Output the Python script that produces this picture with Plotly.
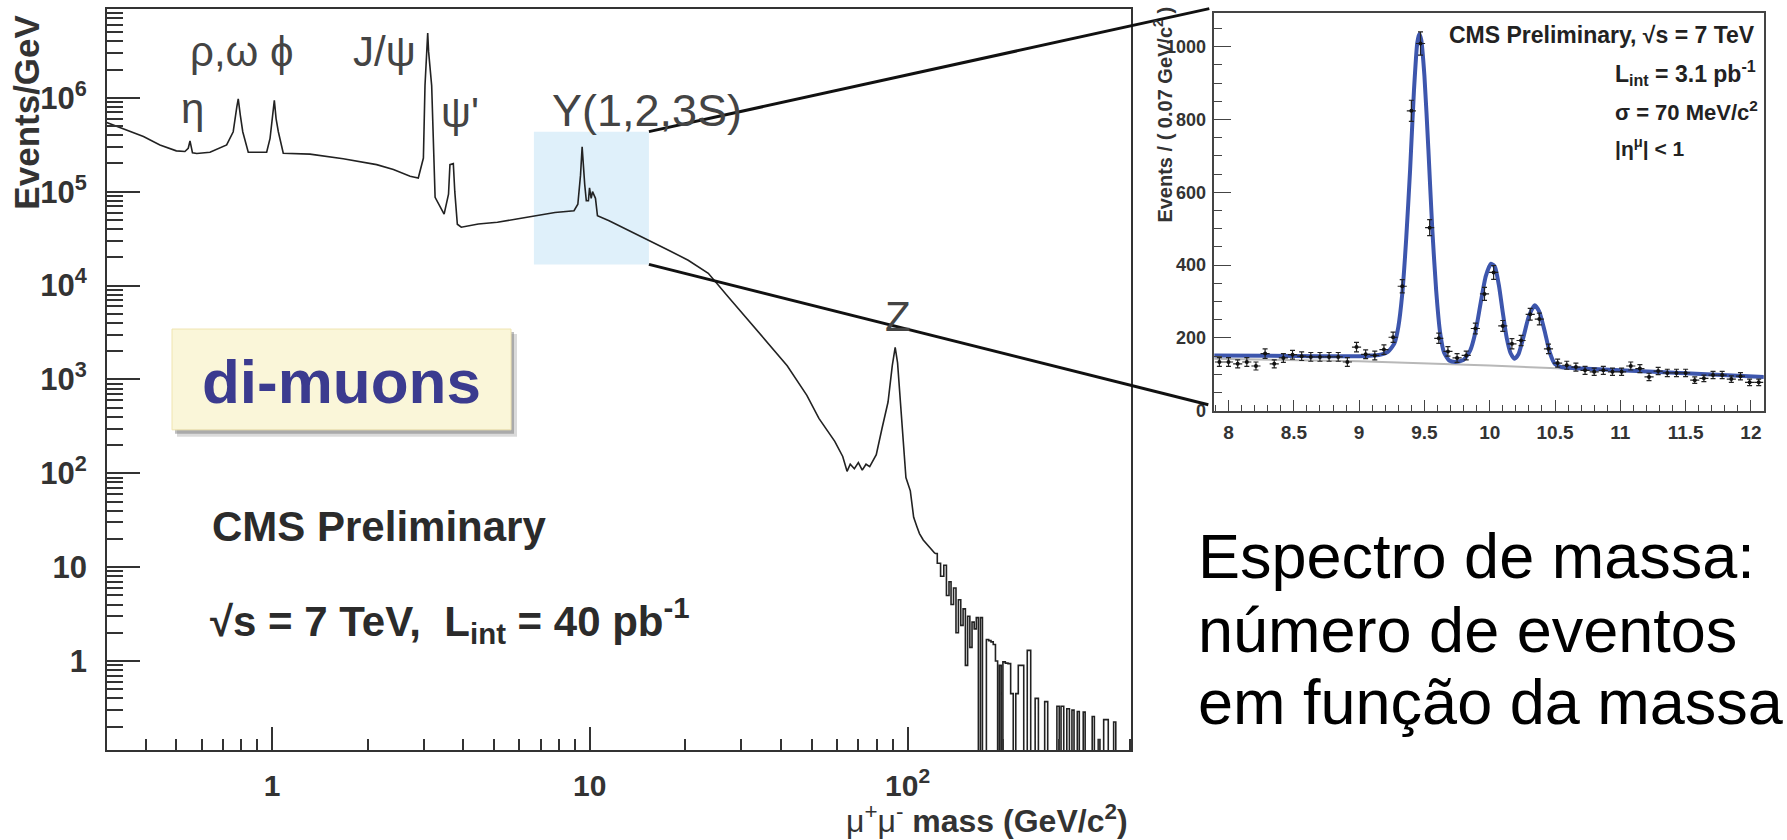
import math
import plotly.graph_objects as go

W, H = 1787, 840

# ---------------- main di-muon spectrum ----------------
mass_body = [0.302, 0.349, 0.394, 0.444, 0.50, 0.532, 0.545, 0.552, 0.562, 0.58, 0.638, 0.72,
             0.755, 0.775, 0.783, 0.795, 0.809, 0.842, 0.962, 0.986, 1.005, 1.017, 1.03, 1.047,
             1.085, 1.317, 1.675, 2.134, 2.41, 2.72, 2.886, 2.995, 3.03, 3.06, 3.09, 3.11, 3.18,
             3.26, 3.48, 3.593, 3.63, 3.72, 3.76, 3.83, 3.94, 4.46, 5.12, 5.89, 6.76, 7.77, 8.92,
             9.17, 9.35, 9.46, 9.64, 9.75, 9.90, 9.98, 10.1, 10.2, 10.42, 10.57, 11.5, 13.3, 15.35,
             17.7, 20.4, 23.6, 27.2, 31.4, 36.2, 41.8, 48.2, 52.6, 59.0, 62.5, 64.5, 66, 68, 70,
             72, 74, 76, 79.7, 83.1, 86.8, 89.5, 91.4, 93.0, 94.6, 98.8, 102, 104.5, 107, 109,
             112, 117, 122]
events_body = [5.46e5, 4.53e5, 3.86e5, 3.15e5, 2.72e5, 2.68e5, 2.9e5, 3.47e5, 2.6e5, 2.55e5,
               2.63e5, 3.15e5, 4.35e5, 8.0e5, 9.76e5, 6.5e5, 4.35e5, 2.63e5, 2.63e5, 3.7e5,
               7.0e5, 9.4e5, 6.0e5, 4.35e5, 2.57e5, 2.51e5, 2.24e5, 1.94e5, 1.72e5, 1.46e5,
               1.4e5, 2.28e5, 1.35e6, 3.1e6, 4.9e6, 3.1e6, 1.35e6, 8.7e4, 5.77e4, 9.4e4, 1.94e5,
               1.99e5, 1.0e5, 4.5e4, 4.18e4, 4.53e4, 4.72e4, 5.12e4, 5.55e4, 6.0e4, 6.27e4,
               7.35e4, 1.5e5, 3.0e5, 1.19e5, 8.0e4, 8.0e4, 1.1e5, 8.5e4, 1.0e5, 8.5e4, 5.55e4,
               4.9e4, 3.86e4, 3.0e4, 2.38e4, 1.86e4, 1.35e4, 7.66e3, 4.37e3, 2.47e3, 1.4e3, 676,
               385, 219, 151, 105, 125, 112, 130, 108, 125, 118, 158, 302, 575, 1400, 2190, 1500,
               630, 90, 65, 34, 27, 22.8, 19.5, 16.6, 14]

# high-mass tail drawn as a step histogram (left bin edges, Events/GeV; 0.001 = empty bin)
tail_edges = [122, 124, 127, 130, 132.5, 135, 137, 139.5, 142, 144.5, 147, 149.5, 152, 154.5,
              157, 159.5, 162, 164.5, 167, 169.5, 172, 174.5, 177, 180, 183, 186, 189, 192,
              194.5, 197, 199.5, 203, 207, 211, 215, 219, 223, 227.5, 232, 238, 244, 252, 258,
              270, 276, 295, 300, 304, 310, 317, 323, 329, 334, 342, 347, 357, 362, 381, 387,
              398, 403, 414, 428, 445, 452, 460]
tail_values = [14, 11, 8.0, 10.5, 5.0, 7.0, 4.0, 6.0, 2.0, 4.5, 2.4, 3.6, 0.9, 3.0, 1.4, 2.6,
               2.2, 2.9, 0.001, 2.9, 0.001, 0.001, 1.7, 1.65, 1.6, 1.5, 1.0, 0.001, 0.9, 0.001,
               0.98, 0.95, 0.94, 0.45, 0.001, 0.45, 0.9, 0.9, 0.001, 1.3, 0.001, 0.4, 0.001,
               0.37, 0.001, 0.33, 0.001, 0.33, 0.001, 0.31, 0.001, 0.30, 0.001, 0.29, 0.001,
               0.286, 0.001, 0.257, 0.001, 0.146, 0.001, 0.238, 0.001, 0.224, 0.001, 0.001]

# ---------------- inset: Upsilon region ----------------
ups_mass = [7.93, 8.00, 8.07, 8.14, 8.21, 8.28, 8.35, 8.42, 8.49, 8.56, 8.63, 8.70, 8.77, 8.84,
            8.91, 8.98, 9.05, 9.12, 9.19, 9.26, 9.33, 9.40, 9.47, 9.54, 9.61, 9.68, 9.75, 9.82,
            9.89, 9.96, 10.03, 10.10, 10.17, 10.24, 10.31, 10.38, 10.45, 10.52, 10.59, 10.66,
            10.73, 10.80, 10.87, 10.94, 11.01, 11.08, 11.15, 11.22, 11.29, 11.36, 11.43, 11.50,
            11.57, 11.64, 11.71, 11.78, 11.85, 11.92, 11.99, 12.06]
ups_counts = [134, 134, 129, 134, 123, 157, 129, 145, 154, 150, 148, 148, 148, 148, 134, 175,
              155, 152, 168, 202, 342, 824, 1009, 503, 199, 163, 145, 152, 226, 321, 380, 233,
              184, 193, 265, 252, 170, 131, 125, 120, 111, 107, 111, 107, 107, 123, 116, 93, 109,
              104, 104, 104, 84, 89, 98, 98, 87, 95, 78, 78]
ups_errors = [12, 12, 11, 12, 11, 13, 11, 12, 12, 12, 12, 12, 12, 12, 12, 13, 12, 12, 13, 14, 18,
              29, 32, 22, 14, 13, 12, 12, 15, 18, 19, 15, 14, 14, 16, 16, 13, 11, 11, 11, 11, 10,
              11, 10, 10, 11, 11, 10, 10, 10, 10, 10, 9, 9, 10, 10, 9, 10, 9, 9]
fit_mass = [7.88, 8.3, 8.7, 9.0, 9.15, 9.22, 9.27, 9.30, 9.33, 9.36, 9.39, 9.42, 9.445, 9.46,
            9.475, 9.50, 9.53, 9.56, 9.59, 9.62, 9.65, 9.69, 9.74, 9.80, 9.85, 9.89, 9.93, 9.97,
            10.01, 10.04, 10.07, 10.10, 10.13, 10.16, 10.19, 10.22, 10.26, 10.30, 10.345, 10.38,
            10.42, 10.46, 10.50, 10.55, 10.65, 11.0, 11.5, 12.1]
fit_events = [152, 151, 150, 150, 153, 162, 185, 230, 320, 470, 660, 880, 1010, 1035, 1020, 920,
              720, 500, 330, 215, 160, 138, 134, 140, 165, 215, 295, 370, 404, 395, 345, 270, 200,
              158, 143, 155, 205, 260, 290, 272, 220, 160, 128, 120, 117, 111, 103, 93]
bkg_mass = [7.88, 9.0, 10.0, 10.55, 11.0, 11.5, 12.1]
bkg_events = [143, 136, 124, 117, 111, 103, 93]

# ---------------- geometry helpers (pixel -> paper) ----------------
def pxx(x):
    return x / W


def pxy(y):
    return 1 - y / H


MAIN_L, MAIN_R, MAIN_T, MAIN_B = 107, 1131, 9, 759
MX_RANGE = [-0.5192, 2.7030]
MY_RANGE = [-0.947, 6.947]
INS_L, INS_R, INS_T, INS_B = 1214.3, 1763.7, 12.7, 415.7
IX_RANGE = [7.891, 12.098]
IY_RANGE = [0, 1094]


def main_to_px(m, n):
    fx = (math.log10(m) - MX_RANGE[0]) / (MX_RANGE[1] - MX_RANGE[0])
    fy = (math.log10(n) - MY_RANGE[0]) / (MY_RANGE[1] - MY_RANGE[0])
    return MAIN_L + fx * (MAIN_R - MAIN_L), MAIN_B - fy * (MAIN_B - MAIN_T)


FONT = "Liberation Sans"
AX = "#333333"

fig = go.Figure()

fig.add_trace(go.Scatter(x=mass_body, y=events_body, mode="lines",
                         line=dict(color="#222222", width=1.6), xaxis="x", yaxis="y",
                         showlegend=False, hoverinfo="skip"))
fig.add_trace(go.Scatter(x=tail_edges, y=tail_values, mode="lines", line_shape="hv",
                         line=dict(color="#222222", width=1.6), xaxis="x", yaxis="y",
                         showlegend=False, hoverinfo="skip"))

fig.add_trace(go.Scatter(x=bkg_mass, y=bkg_events, mode="lines",
                         line=dict(color="#b8b8b8", width=2), xaxis="x2", yaxis="y2",
                         showlegend=False, hoverinfo="skip"))
fig.add_trace(go.Scatter(x=fit_mass, y=fit_events, mode="lines", line_shape="spline",
                         line=dict(color="#3d56ad", width=4, smoothing=0.6),
                         xaxis="x2", yaxis="y2", showlegend=False, hoverinfo="skip"))
fig.add_trace(go.Scatter(x=ups_mass, y=ups_counts, mode="markers",
                         marker=dict(color="#111111", size=4),
                         error_x=dict(type="constant", value=0.035, color="#222222",
                                      thickness=1.2, width=0),
                         error_y=dict(type="data", array=ups_errors, color="#222222",
                                      thickness=1.2, width=2.5),
                         xaxis="x2", yaxis="y2", showlegend=False, hoverinfo="skip"))

# ---------------- axes ----------------
y_major = [1, 10, 100, 1e3, 1e4, 1e5, 1e6]
y_major_text = ["<b>1</b>", "<b>10</b>", "<b>10<sup>2</sup></b>", "<b>10<sup>3</sup></b>",
                "<b>10<sup>4</sup></b>", "<b>10<sup>5</sup></b>", "<b>10<sup>6</sup></b>"]
y_minor = [k * 10.0 ** n for n in range(-1, 7) for k in range(2, 10)]
x_major = [1, 10, 100]
x_major_text = ["<b>1</b>", "<b>10</b>", "<b>10<sup>2</sup></b>"]
x_minor = [k * 10.0 ** n for n in range(-1, 3) for k in range(2, 10)]

fig.update_layout(
    width=W, height=H, autosize=False,
    margin=dict(l=0, r=0, t=0, b=0),
    paper_bgcolor="white", plot_bgcolor="rgba(0,0,0,0)",
    font=dict(family=FONT, color=AX),
    xaxis=dict(type="log", domain=[pxx(MAIN_L), pxx(MAIN_R)], range=MX_RANGE,
               anchor="y", showgrid=False, zeroline=False, showline=True, mirror=True,
               linecolor=AX, linewidth=1.8, ticks="inside", ticklen=23, tickwidth=1.5,
               tickcolor=AX, tickmode="array", tickvals=x_major, ticktext=x_major_text,
               tickfont=dict(size=30, family=FONT, color=AX), ticklabelstandoff=8,
               minor=dict(tickmode="array", tickvals=x_minor, ticks="inside", ticklen=11,
                          tickwidth=1.5, tickcolor=AX, showgrid=False)),
    yaxis=dict(type="log", domain=[pxy(MAIN_B), pxy(MAIN_T)], range=MY_RANGE,
               anchor="x", showgrid=False, zeroline=False, showline=True, mirror=True,
               linecolor=AX, linewidth=1.8, ticks="inside", ticklen=33, tickwidth=1.5,
               tickcolor=AX, tickmode="array", tickvals=y_major, ticktext=y_major_text,
               tickfont=dict(size=31, family=FONT, color=AX), ticklabelstandoff=12,
               minor=dict(tickmode="array", tickvals=y_minor, ticks="inside", ticklen=16,
                          tickwidth=1.5, tickcolor=AX, showgrid=False)),
    xaxis2=dict(domain=[pxx(INS_L), pxx(INS_R)], range=IX_RANGE, anchor="y2",
                showgrid=False, zeroline=False, showline=True, mirror=True,
                linecolor="#444444", linewidth=1.5, ticks="inside", ticklen=11,
                tickwidth=1.2, tickcolor="#444444", tickmode="array",
                tickvals=[8, 8.5, 9, 9.5, 10, 10.5, 11, 11.5, 12],
                ticktext=["<b>8</b>", "<b>8.5</b>", "<b>9</b>", "<b>9.5</b>", "<b>10</b>",
                          "<b>10.5</b>", "<b>11</b>", "<b>11.5</b>", "<b>12</b>"],
                tickfont=dict(size=19, family=FONT, color=AX), ticklabelstandoff=4,
                minor=dict(tickmode="array",
                           tickvals=[round(7.9 + 0.1 * i, 1) for i in range(42)],
                           ticks="inside", ticklen=6, tickwidth=1.2, tickcolor="#444444")),
    yaxis2=dict(domain=[pxy(INS_B), pxy(INS_T)], range=IY_RANGE, anchor="x2",
                showgrid=False, zeroline=False, showline=True, mirror=True,
                linecolor="#444444", linewidth=1.5, ticks="inside", ticklen=17,
                tickwidth=1.2, tickcolor="#444444", tickmode="array",
                tickvals=[0, 200, 400, 600, 800, 1000],
                ticktext=["<b>0</b>", "<b>200</b>", "<b>400</b>", "<b>600</b>", "<b>800</b>",
                          "<b>1000</b>"],
                tickfont=dict(size=18, family=FONT, color=AX), ticklabelstandoff=3,
                minor=dict(tickmode="array", tickvals=[50 * i for i in range(22)],
                           ticks="inside", ticklen=8, tickwidth=1.2, tickcolor="#444444")),
)

# ---------------- shapes ----------------
ZOOM_X = [6.67, 15.35]
ZOOM_Y = [1.68e4, 4.36e5]
zx0, zy0 = main_to_px(ZOOM_X[0], ZOOM_Y[1])
zx1, zy1 = main_to_px(ZOOM_X[1], ZOOM_Y[0])

shapes = [
    dict(type="rect", xref="x", yref="y", x0=ZOOM_X[0], x1=ZOOM_X[1], y0=ZOOM_Y[0],
         y1=ZOOM_Y[1], fillcolor="#dff0fa", line=dict(width=0), layer="below"),
    dict(type="line", xref="paper", yref="paper", x0=pxx(zx1), y0=pxy(zy0),
         x1=pxx(INS_L - 5), y1=pxy(INS_T - 4), line=dict(color="#111111", width=3)),
    dict(type="line", xref="paper", yref="paper", x0=pxx(zx1), y0=pxy(zy1),
         x1=pxx(INS_L - 6), y1=pxy(INS_B - 6), line=dict(color="#111111", width=3)),
    # di-muons box with its soft shadow
    dict(type="rect", xref="paper", yref="paper", x0=pxx(177), x1=pxx(517), y0=pxy(442),
         y1=pxy(338), fillcolor="rgba(150,150,150,0.35)", line=dict(width=0)),
    dict(type="rect", xref="paper", yref="paper", x0=pxx(175), x1=pxx(514), y0=pxy(439),
         y1=pxy(336), fillcolor="rgba(110,110,110,0.45)", line=dict(width=0)),
    dict(type="rect", xref="paper", yref="paper", x0=pxx(172), x1=pxx(511), y0=pxy(435),
         y1=pxy(333), fillcolor="#faf6d9", line=dict(color="#efe4b0", width=1)),
]
fig.update_layout(shapes=shapes)

# ---------------- texts ----------------
ann = []


def text(x, y, s, size, color=AX, xanchor="center", yanchor="middle", angle=0, family=FONT):
    ann.append(dict(x=pxx(x), y=pxy(y), xref="paper", yref="paper", text=s, showarrow=False,
                    xanchor=xanchor, yanchor=yanchor, textangle=angle,
                    font=dict(size=size, color=color, family=family)))


PEAK = "#444444"
text(192, 110, "η", 42, PEAK)
text(224, 52, "ρ,ω", 42, PEAK)
text(282, 52, "ϕ", 42, PEAK)
text(384, 52, "J/ψ", 42, PEAK)
text(460, 114, "ψ'", 42, PEAK)
text(647, 112, "Υ(1,2,3S)", 45, PEAK)
text(898, 320, "Z", 42, PEAK)

text(341, 386, "<b>di-muons</b>", 62, "#3b3b8f")
text(210, 533, "<b>CMS Preliminary</b>", 42, "#2b2b2b", xanchor="left")
text(208, 628, "<b>√s = 7 TeV,  L<sub>int</sub> = 40 pb<sup>-1</sup></b>", 42, "#2b2b2b",
     xanchor="left")

text(27, 114, "<b>Events/GeV</b>", 35, AX, angle=-90)
text(1130, 851, "μ<sup>+</sup>μ<sup>-</sup><b> mass (GeV/c<sup>2</sup>)</b>", 32, AX,
     xanchor="right", yanchor="bottom")

text(1163, 116, "<b>Events / ( 0.07 GeV/c<sup>2</sup> )</b>", 20, AX, angle=-90)
text(1757, 35, "<b>CMS Preliminary, √s = 7 TeV</b>", 23, "#222222", xanchor="right")
text(1613, 74, "<b>L<sub>int</sub> = 3.1 pb<sup>-1</sup></b>", 23, "#222222", xanchor="left")
text(1613, 112, "<b>σ = 70 MeV/c<sup>2</sup></b>", 22, "#222222", xanchor="left")
text(1613, 149, "<b>|η<sup>μ</sup>| < 1</b>", 21, "#222222", xanchor="left")

text(1196, 563, "Espectro de massa:", 63, "#000000", xanchor="left")
text(1196, 638, "número de eventos", 63, "#000000", xanchor="left")
text(1196, 710, "em função da massa", 63, "#000000", xanchor="left")

fig.update_layout(annotations=ann)

fig.write_html("out.html")
